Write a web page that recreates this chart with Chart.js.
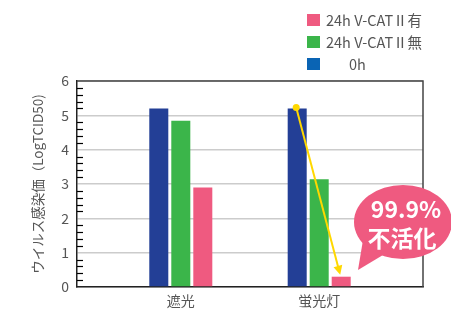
<!DOCTYPE html>
<html>
<head>
<meta charset="utf-8">
<script src="https://cdn.jsdelivr.net/npm/chart.js@4"></script>
<style>
  body { margin: 0; background: #fff; }
  #wrap { width: 451px; height: 309px; position: relative; }
</style>
</head>
<body>
<div id="wrap"><canvas id="virusChart"></canvas></div>
<script>
// data
const categories = ['遮光', '蛍光灯'];
const values0h = [5.2, 5.2];
const valuesNashi = [4.84, 3.14];
const valuesAri = [2.9, 0.3];
const yTicks = [0, 1, 2, 3, 4, 5, 6];

const seriesLabels = ['0h', '24h V-CATⅡ無', '24h V-CATⅡ有'];
const barColors = ['#233f96', '#3bb54a', '#ef5a80'];
const legendColors = ['#0a64b4', '#3bb54a', '#ef5a80'];

const FONT = "'Noto Sans CJK JP', 'Open Sans', sans-serif";

// pad with empty slots so the two groups sit at 0.3 / 0.7 of the width
function spread(arr) {
    return [null, arr[0], null, arr[1], null];
}
const labels = ['', categories[0], '', categories[1], ''];

const extrasPlugin = {
    id: 'extras',
    afterDatasetsDraw(chart) {
        const ctx = chart.ctx;
        const area = chart.chartArea;
        const y = chart.scales.y;

        // frame: top + right, left/bottom are the scale borders
        ctx.save();
        ctx.strokeStyle = '#444';
        ctx.lineWidth = 1.5;
        ctx.beginPath();
        ctx.moveTo(area.left, area.top);
        ctx.lineTo(area.right, area.top);
        ctx.lineTo(area.right, area.bottom);
        ctx.stroke();

        // minor ticks every 0.2 on the inside of the y axis
        ctx.strokeStyle = '#000';
        ctx.lineWidth = 1.2;
        for (let i = 1; i < 30; i++) {
            if (i % 5 === 0) continue;
            const py = Math.round(y.getPixelForValue(i / 5)) + 0.5;
            ctx.beginPath();
            ctx.moveTo(area.left, py);
            ctx.lineTo(area.left + 6, py);
            ctx.stroke();
        }
        ctx.restore();

        // speech bubble
        const cx = area.right - 20, cy = 222;
        ctx.save();
        ctx.fillStyle = '#ef5a80';
        ctx.beginPath();
        ctx.ellipse(cx, cy, 49, 37, 0, 0, Math.PI * 2);
        ctx.fill();
        ctx.beginPath();
        ctx.moveTo(cx - 40, cy + 18);
        ctx.lineTo(cx - 45, cy + 48);
        ctx.lineTo(cx - 20, cy + 33);
        ctx.closePath();
        ctx.fill();
        ctx.fillStyle = '#fff';
        ctx.textAlign = 'center';
        ctx.textBaseline = 'middle';
        ctx.font = 'bold 23px ' + FONT;
        ctx.fillText('99.9%', cx + 3, cy - 13);
        ctx.fillText('不活化', cx - 1, cy + 16);
        ctx.restore();

        // yellow arrow from the 0h bar to the 24h 有 bar (蛍光灯)
        const from = chart.getDatasetMeta(0).data[3];
        const to = chart.getDatasetMeta(2).data[3];
        const x1 = from.x - 1, y1 = from.y - 1;
        const x2 = to.x - 1, y2 = to.y - 2;
        const ang = Math.atan2(y2 - y1, x2 - x1);
        ctx.save();
        ctx.strokeStyle = '#ffd800';
        ctx.fillStyle = '#ffd800';
        ctx.lineWidth = 2;
        ctx.beginPath();
        ctx.moveTo(x1, y1);
        ctx.lineTo(x2 - 7 * Math.cos(ang), y2 - 7 * Math.sin(ang));
        ctx.stroke();
        ctx.beginPath();
        ctx.arc(x1, y1, 3.5, 0, Math.PI * 2);
        ctx.fill();
        ctx.beginPath();
        ctx.moveTo(x2, y2);
        ctx.lineTo(x2 - 9 * Math.cos(ang) + 4.5 * Math.sin(ang), y2 - 9 * Math.sin(ang) - 4.5 * Math.cos(ang));
        ctx.lineTo(x2 - 9 * Math.cos(ang) - 4.5 * Math.sin(ang), y2 - 9 * Math.sin(ang) + 4.5 * Math.cos(ang));
        ctx.closePath();
        ctx.fill();
        ctx.restore();

        // legend (top right, reversed order)
        ctx.save();
        ctx.font = '14.5px ' + FONT;
        ctx.textBaseline = 'middle';
        const rows = [2, 1, 0];
        const rowY = [14, 36, 58];
        rows.forEach((d, i) => {
            ctx.fillStyle = legendColors[d];
            ctx.fillRect(307, rowY[i], 13, 12);
            ctx.fillStyle = '#555';
            const tx = d === 0 ? 349 : 326;
            ctx.fillText(seriesLabels[d], tx, rowY[i] + 6);
        });
        ctx.restore();
    }
};

new Chart(document.getElementById('virusChart'), {
    type: 'bar',
    data: {
        labels: labels,
        datasets: [
            { label: seriesLabels[0], data: spread(values0h), backgroundColor: barColors[0] },
            { label: seriesLabels[1], data: spread(valuesNashi), backgroundColor: barColors[1] },
            { label: seriesLabels[2], data: spread(valuesAri), backgroundColor: barColors[2] }
        ]
    },
    options: {
        responsive: true,
        maintainAspectRatio: false,
        animation: false,
        categoryPercentage: 0.954,
        barPercentage: 0.864,
        layout: { padding: { left: 0, right: 28, top: 81, bottom: 0 } },
        plugins: {
            legend: { display: false },
            tooltip: { enabled: false }
        },
        scales: {
            x: {
                grid: { display: false, drawTicks: false },
                border: { color: '#222', width: 1.5 },
                ticks: {
                    autoSkip: false,
                    maxRotation: 0,
                    padding: 5,
                    color: '#555',
                    font: { family: FONT, size: 14 }
                },
                afterFit(scale) { scale.height = 22; }
            },
            y: {
                min: 0,
                max: 6,
                afterBuildTicks(scale) {
                    scale.ticks = yTicks.map(v => ({ value: v }));
                },
                grid: {
                    drawTicks: false,
                    color: '#cccccc',
                    lineWidth: 1.5
                },
                border: { color: '#222', width: 1.5 },
                ticks: {
                    padding: 8,
                    color: '#555',
                    font: { family: FONT, size: 14 }
                },
                title: {
                    display: true,
                    text: 'ウイルス感染価（LogTCID50)',
                    color: '#555',
                    font: { family: FONT, size: 13.5 },
                    padding: { top: 30, bottom: 0 }
                },
                afterFit(scale) { scale.width = 77; }
            }
        }
    },
    plugins: [extrasPlugin]
});
</script>
</body>
</html>
